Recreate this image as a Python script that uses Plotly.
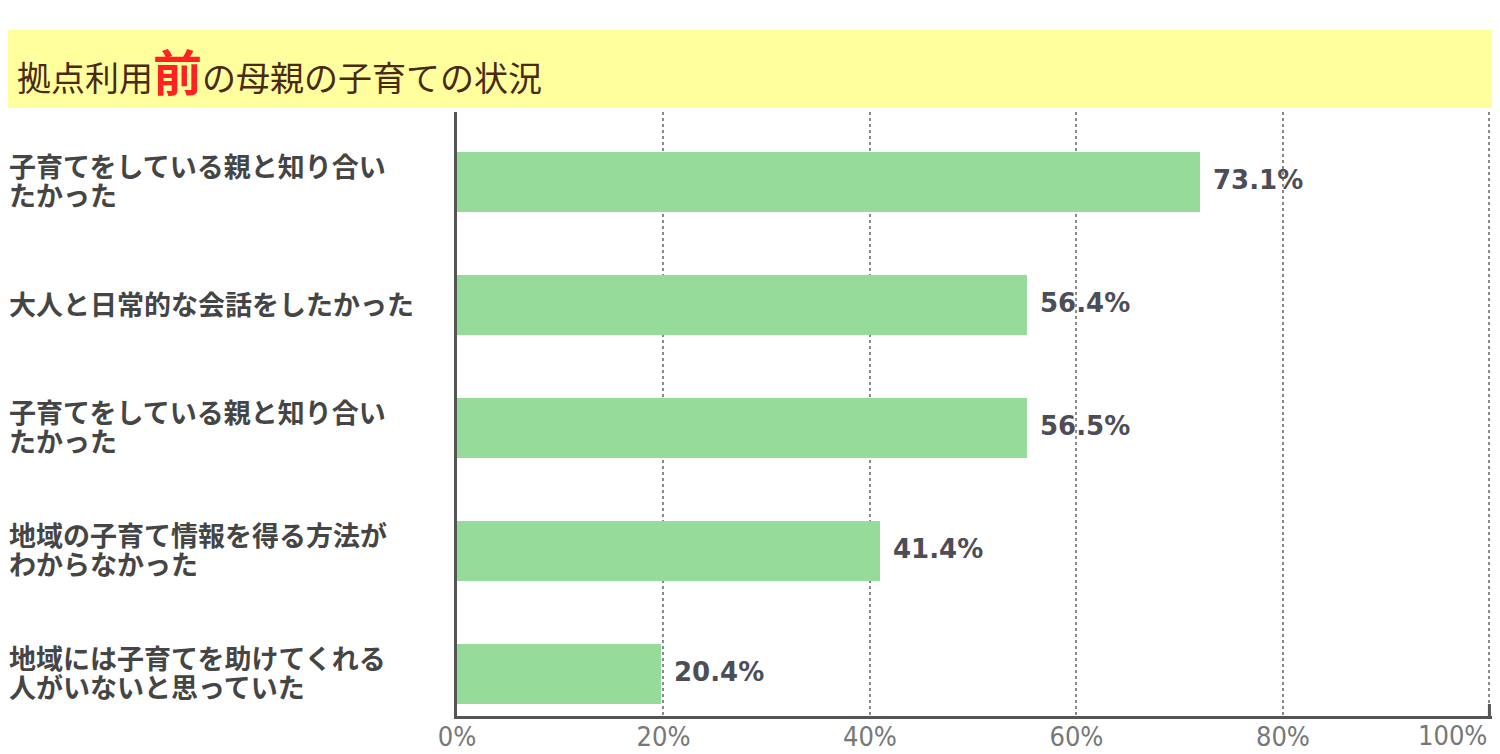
import plotly.graph_objects as go

# ── Data ──────────────────────────────────────────────────────────
categories = [
    "子育てをしている親と知り合い<br>たかった",
    "大人と日常的な会話をしたかった",
    "子育てをしている親と知り合い<br>たかった",
    "地域の子育て情報を得る方法が<br>わからなかった",
    "地域には子育てを助けてくれる<br>人がいないと思っていた",
]
bar_values = [72.0, 55.2, 55.2, 41.0, 19.8]          # bar lengths as drawn
value_labels = ["73.1%", "56.4%", "56.5%", "41.4%", "20.4%"]
x_ticks = [0, 20, 40, 60, 80, 100]
x_tick_text = ["0%", "20%", "40%", "60%", "80%", ""]

# ── Theme ─────────────────────────────────────────────────────────
BAR_GREEN = "#97DB9B"
AXIS_GRAY = "#555555"
LABEL_GRAY = "#454545"
VALUE_GRAY = "#4d4d57"
BAND_YELLOW = "#FFFF9E"
TITLE_BROWN = "#4b2a14"
JP_FONT = "Noto Sans CJK JP"
TICK_FONT = "DejaVu Sans Condensed, Liberation Sans Narrow, Liberation Sans"

# page has an 8px body margin: figure starts at (8, 8) and runs to the window edge
OFF = 8
W, H = 1500 - OFF, 754 - OFF
ML, MT = 457 - OFF, 112 - OFF
MR = W - (1492 - OFF)
MB = H - (716 - OFF)
PW, PH = W - ML - MR, H - MT - MB


def px_x(px):
    # page pixel -> paper x
    return (px - OFF - ML) / PW


def px_y(py):
    # page pixel -> paper y
    return (H - MB - (py - OFF)) / PH


ys = list(range(len(categories)))

fig = go.Figure(go.Bar(
    x=bar_values,
    y=ys,
    orientation="h",
    width=0.49,
    marker=dict(color=BAR_GREEN, line=dict(width=0)),
    hoverinfo="skip",
))

annotations = []

# value labels next to bars
for y, v, t in zip(ys, bar_values, value_labels):
    annotations.append(dict(
        x=v, y=y, xref="x", yref="y", text=f"<b>{t}</b>",
        xanchor="left", yanchor="middle", xshift=11, yshift=2, showarrow=False,
        font=dict(family="DejaVu Sans", size=26, color=VALUE_GRAY),
    ))

# left-aligned category labels, one annotation per line
for y, cat in zip(ys, categories):
    lines = cat.split("<br>")
    n = len(lines)
    for i, line in enumerate(lines):
        offset = (i - (n - 1) / 2) * 29
        annotations.append(dict(
            x=px_x(7), y=y, xref="paper", yref="y", text=f"<b>{line}</b>",
            xanchor="left", yanchor="middle", yshift=2 - offset, showarrow=False,
            font=dict(family=JP_FONT, size=27, color=LABEL_GRAY),
        ))

# right-end tick label (kept inside the page)
annotations.append(dict(
    x=100, y=0, xref="x", yref="paper", text="100%",
    xanchor="right", yanchor="middle", yshift=-19, showarrow=False,
    font=dict(family=TICK_FONT, size=27, color="#777777"),
))

# title inside yellow band
annotations.append(dict(
    x=px_x(15), y=px_y(69), xref="paper", yref="paper",
    text=("拠点利用<span style='font-size:49px;color:#ff2222'><b>前</b></span>"
          "の母親の子育ての状況"),
    xanchor="left", yanchor="middle", showarrow=False,
    font=dict(family=JP_FONT, size=34, color=TITLE_BROWN),
))

fig.update_layout(
    width=W, height=H,
    paper_bgcolor="white", plot_bgcolor="white",
    margin=dict(l=ML, r=MR, t=MT, b=MB, pad=0, autoexpand=False),
    showlegend=False,
    bargap=0,
    shapes=[
        dict(
            type="rect", xref="paper", yref="paper", layer="below",
            x0=px_x(0), x1=px_x(1500), y0=px_y(108), y1=px_y(30),
            fillcolor=BAND_YELLOW, line=dict(width=0),
        ),
        # small solid end mark on the right of the x axis
        dict(
            type="line", xref="x", yref="paper",
            x0=100, x1=100, y0=0, y1=px_y(704),
            line=dict(color=AXIS_GRAY, width=3),
        ),
    ],
    annotations=annotations,
)

fig.update_xaxes(
    range=[0, 100.25],
    tickvals=x_ticks, ticktext=x_tick_text,
    showgrid=True, gridcolor="#8a8a8a", gridwidth=2, griddash="dot",
    showline=True, linecolor=AXIS_GRAY, linewidth=3,
    zeroline=False, ticks="", ticklabelstandoff=-5,
    tickfont=dict(family=TICK_FONT, size=27, color="#777777"),
    fixedrange=True,
)
fig.update_yaxes(
    range=[4.341, -0.569],
    showticklabels=False, showgrid=False, zeroline=False, ticks="",
    showline=True, linecolor=AXIS_GRAY, linewidth=3,
    fixedrange=True,
)

fig.write_html("out.html")
